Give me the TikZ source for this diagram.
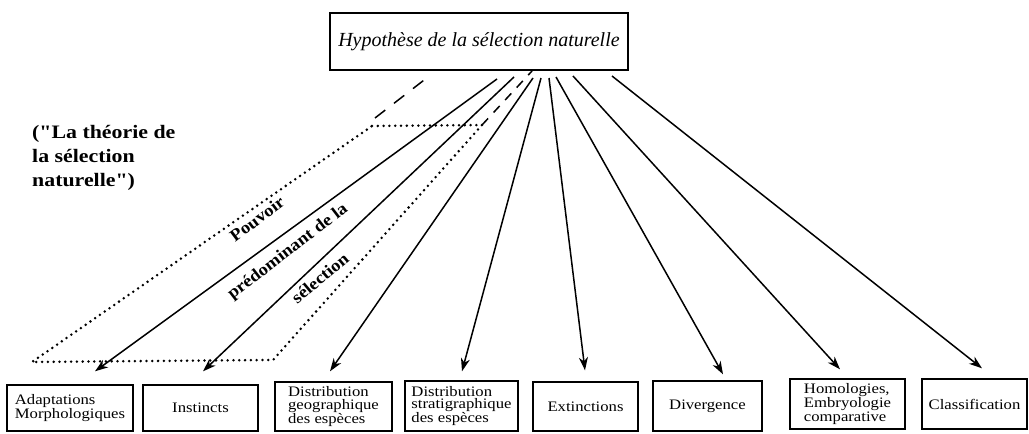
\documentclass[tikz,border=0pt]{standalone}
\usepackage{fontspec}
\setmainfont{Liberation Serif}
\newfontfamily\boxfont[FakeStretch=1.15]{Liberation Serif}
\newfontfamily\labfont[FakeStretch=1.1]{Liberation Serif}
\newfontfamily\notefont[FakeStretch=1.15]{Liberation Serif}
\usetikzlibrary{arrows.meta}
\begin{document}
\begin{tikzpicture}[x=1pt,y=-1pt]
\tikzset{
 box/.style={draw, line width=1.4pt, inner sep=0pt, align=left,
   font=\boxfont\fontsize{14.5}{12.5}\selectfont},
 arr/.style={-{Stealth[length=13pt,width=9pt,inset=4pt]}, line width=1.5pt},
 dots/.style={line width=2.8pt, line cap=round, dash pattern=on 0pt off 5.8pt},
 dashes/.style={line width=1.5pt},
 lab/.style={font=\labfont\bfseries\fontsize{17}{20}\selectfont, inner sep=0pt},
 note/.style={font=\notefont\bfseries\fontsize{19}{24}\selectfont, align=left, inner sep=0pt},
 topbox/.style={draw, line width=1.4pt, font=\itshape\fontsize{20}{24}\selectfont,
   minimum width=298pt, minimum height=57pt, inner sep=0pt},
}
\useasboundingbox[fill=white] (0,0) rectangle (1029,434);

% top box
\node[topbox] (hyp) at (479,41.5) {Hypothèse de la sélection naturelle};

% bottom boxes
\node[box, minimum width=126pt, minimum height=46pt] (adapt) at (70,408) {Adaptations\\Morphologiques};
\node[box, minimum width=115pt, minimum height=46pt] (inst) at (200.5,408) {Instincts};
\node[box, minimum width=117pt, minimum height=49pt] (geo) at (333.5,406.5) {Distribution\\geographique\\des espèces};
\node[box, minimum width=113pt, minimum height=50pt] (strat) at (461.5,406) {Distribution\\stratigraphique\\des espèces};
\node[box, minimum width=105pt, minimum height=49pt] (ext) at (585.5,406.5) {Extinctions};
\node[box, minimum width=109pt, minimum height=50pt] (div) at (707.5,406) {Divergence};
\node[box, minimum width=115pt, minimum height=50pt] (hom) at (847.5,404) {Homologies,\\Embryologie\\comparative};
\node[box, minimum width=105pt, minimum height=50pt] (cls) at (974.5,404) {Classification};

% arrow start points just below the top box
\coordinate (s1) at (497,79);
\coordinate (s2) at (514,77);
\coordinate (s3) at (533,78);
\coordinate (s4) at (541,78);
\coordinate (s5) at (549,78);
\coordinate (s6) at (556,77);
\coordinate (s7) at (573,76);
\coordinate (s8) at (612,76);

\draw[arr] (s1) -- ([shift={(25pt,13pt)}]adapt.north);
\draw[arr] (s2) -- ([shift={(2.5pt,13pt)}]inst.north);
\draw[arr] (s3) -- ([shift={(-3.5pt,10pt)}]geo.north);
\draw[arr] (s4) -- ([shift={(0.5pt,9pt)}]strat.north);
\draw[arr] (s5) -- ([shift={(-0.5pt,11pt)}]ext.north);
\draw[arr] (s6) -- ([shift={(15.5pt,6pt)}]div.north);
\draw[arr] (s7) -- ([shift={(-7.5pt,9pt)}]hom.north);
\draw[arr] (s8) -- ([shift={(7.5pt,10pt)}]cls.north);

% dotted parallelogram
\coordinate (p1) at (32,362);
\coordinate (p2) at (273,360);
\coordinate (p3) at (482,125);
\coordinate (p4) at (372,126);
\draw[dots] (p4) -- (p3) -- (p2) -- (p1) -- cycle;

% dashed extensions
\coordinate (dA) at (375,118);
\coordinate (dB) at (428,77);
\coordinate (dC) at (532,71);
\draw[dashes, dash pattern=on 13pt off 11pt] (dA) -- (dB);
\draw[dashes, dash pattern=on 9pt off 8pt] (p3) -- (dC);

% labels along the band
\node[lab, rotate=37] (pouv) at (257,219) {Pouvoir};
\node[lab, rotate=37.5] (pred) at (288,252) {prédominant de la};
\node[lab, rotate=40] (sel) at (320,278) {sélection};

% side note
\node[note, anchor=west] (theo) at (32,158) {("La théorie de\\la sélection\\naturelle")};
\end{tikzpicture}
\end{document}
